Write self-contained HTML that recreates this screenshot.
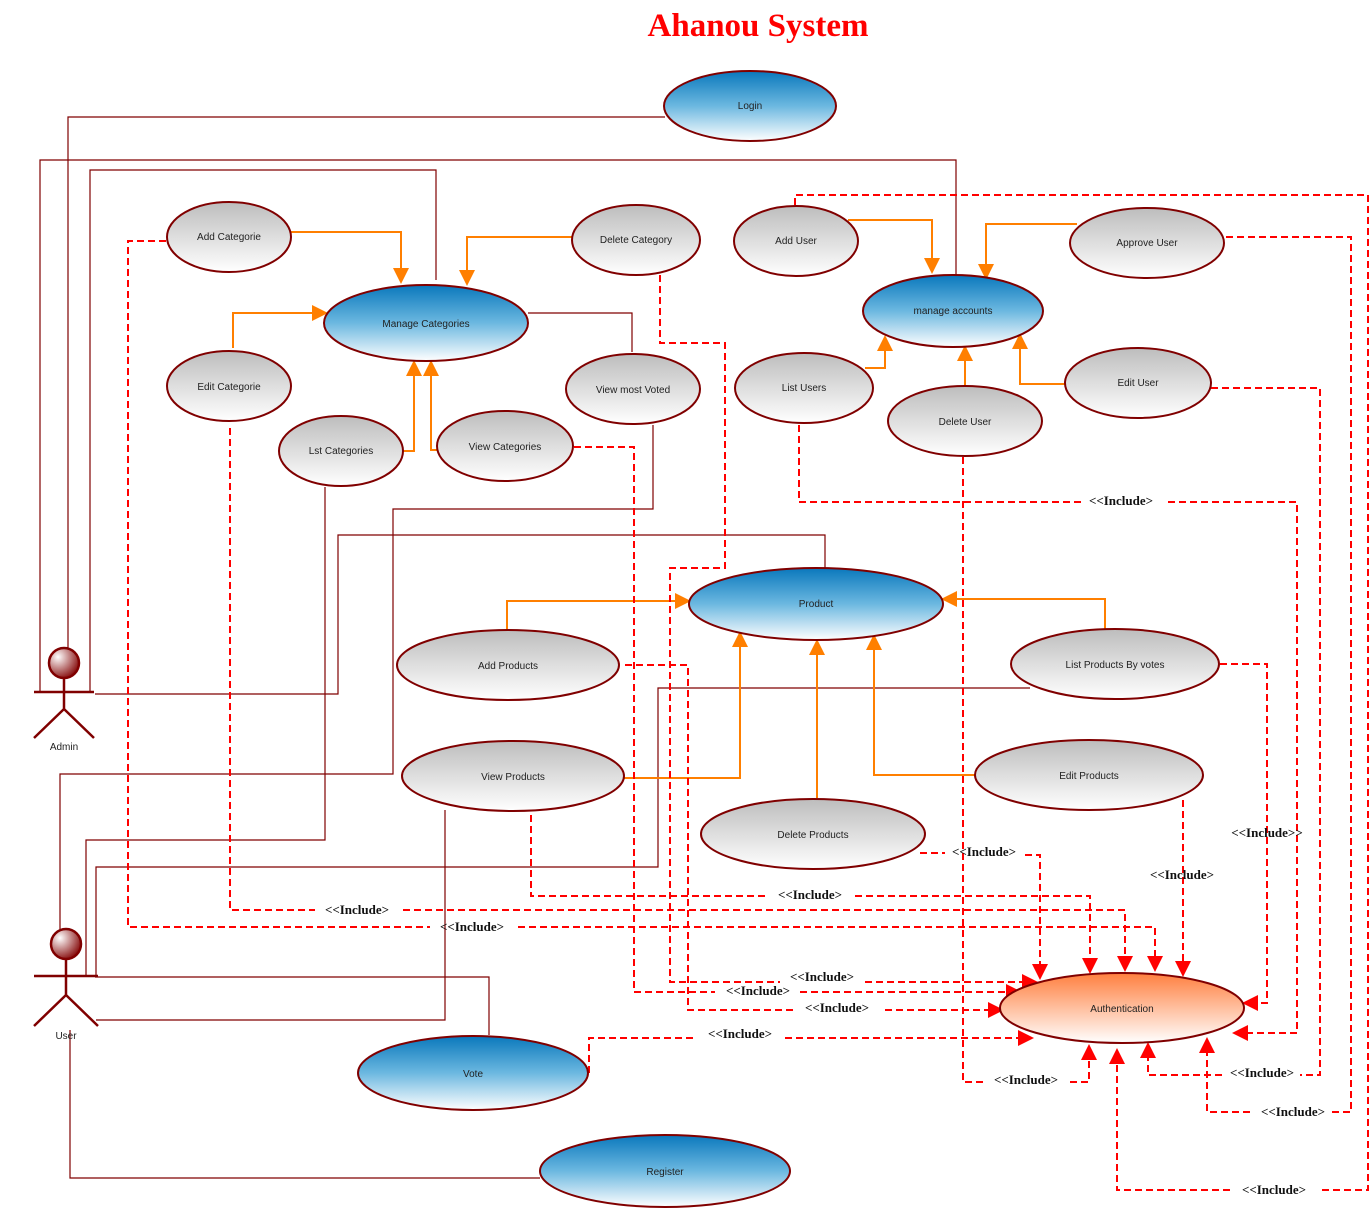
<!DOCTYPE html>
<html><head><meta charset="utf-8"><style>
html,body{margin:0;padding:0;background:#fff;}
svg{display:block;}
.t{font-family:"Liberation Sans",sans-serif;font-size:10px;fill:#222;text-anchor:middle;}
.inc{font-family:"Liberation Serif",serif;font-size:13px;font-weight:bold;fill:#111;text-anchor:middle;}
.s{fill:none;stroke:#800000;stroke-width:1.2;}
.o{fill:none;stroke:#ff7f00;stroke-width:2;}
.d{fill:none;stroke:#ff0000;stroke-width:2;stroke-dasharray:7,4;}
.e{stroke:#800000;stroke-width:2;}
</style></head><body>
<svg width="1371" height="1208" viewBox="0 0 1371 1208" xmlns="http://www.w3.org/2000/svg">
<defs>
<linearGradient id="gb" x1="0" y1="0" x2="0" y2="1"><stop offset="0" stop-color="#0a78bc"/><stop offset="0.5" stop-color="#6cb8e0"/><stop offset="1" stop-color="#ffffff"/></linearGradient>
<linearGradient id="gg" x1="0" y1="0" x2="0" y2="1"><stop offset="0" stop-color="#bdbdbd"/><stop offset="1" stop-color="#ffffff"/></linearGradient>
<linearGradient id="go" x1="0" y1="0" x2="0" y2="1"><stop offset="0" stop-color="#ff7f3f"/><stop offset="1" stop-color="#ffffff"/></linearGradient>
<radialGradient id="gh" cx="0.3" cy="0.3" r="0.8"><stop offset="0" stop-color="#ffffff"/><stop offset="1" stop-color="#800000"/></radialGradient>
<marker id="ao" markerUnits="userSpaceOnUse" markerWidth="16" markerHeight="16" refX="14" refY="8" orient="auto"><path d="M0,0 L16,8 L0,16 z" fill="#ff7f00"/></marker>
<marker id="ar" markerUnits="userSpaceOnUse" markerWidth="16" markerHeight="16" refX="14" refY="8" orient="auto"><path d="M0,0 L16,8 L0,16 z" fill="#ff0000"/></marker>
</defs>

<text x="758" y="36" font-family="Liberation Serif,serif" font-size="33" font-weight="bold" fill="#ff0000" text-anchor="middle">Ahanou System</text>

<path class="s" d="M665,117 H68 V648"/>
<path class="s" d="M956,275 V160 H40 V692"/>
<path class="s" d="M436,280 V170 H90 V692"/>
<path class="s" d="M528,313 H632 V352"/>
<path class="s" d="M825,568 V535 H338 V694 H95"/>
<path class="s" d="M653,425 V509 H393 V774 H60 V930"/>
<path class="s" d="M325,487 V840 H86 V975"/>
<path class="s" d="M1030,688 H658 V867 H96 V975"/>
<path class="s" d="M445,810 V1020 H96"/>
<path class="s" d="M489,1035 V977 H95"/>
<path class="s" d="M540,1178 H70 V1030"/>

<path class="o" marker-end="url(#ao)" d="M291,232 H401 V282"/>
<path class="o" marker-end="url(#ao)" d="M572,237 H467 V284"/>
<path class="o" marker-end="url(#ao)" d="M233,348 V313 H326"/>
<path class="o" marker-end="url(#ao)" d="M403,451 H414 V362"/>
<path class="o" marker-end="url(#ao)" d="M437,450 H431 V362"/>
<path class="o" marker-end="url(#ao)" d="M848,220 H932 V272"/>
<path class="o" marker-end="url(#ao)" d="M1077,224 H986 V278"/>
<path class="o" marker-end="url(#ao)" d="M865,368 H885 V337"/>
<path class="o" marker-end="url(#ao)" d="M965,386 V347"/>
<path class="o" marker-end="url(#ao)" d="M1065,384 H1020 V335"/>
<path class="o" marker-end="url(#ao)" d="M507,630 V601 H689"/>
<path class="o" marker-end="url(#ao)" d="M1105,630 V599 H943"/>
<path class="o" marker-end="url(#ao)" d="M624,778 H740 V633"/>
<path class="o" marker-end="url(#ao)" d="M817,798 V641"/>
<path class="o" marker-end="url(#ao)" d="M975,775 H874 V636"/>

<path class="d" d="M166,241 H128 V927 H430"/><path class="d" marker-end="url(#ar)" d="M518,927 H1155 V970"/>
<path class="d" d="M230,428 V910 H315"/><path class="d" marker-end="url(#ar)" d="M403,910 H1125 V970"/>
<path class="d" d="M660,275 V343 H725 V568 H670 V982 H780"/><path class="d" marker-end="url(#ar)" d="M865,982 H1036"/>
<path class="d" d="M574,447 H634 V992 H715"/><path class="d" marker-end="url(#ar)" d="M800,992 H1020"/>
<path class="d" d="M625,665 H688 V1010 H795"/><path class="d" marker-end="url(#ar)" d="M885,1010 H1002"/>
<path class="d" d="M531,815 V896 H765"/><path class="d" marker-end="url(#ar)" d="M855,896 H1090 V972"/>
<path class="d" d="M920,853 H945"/><path class="d" marker-end="url(#ar)" d="M1025,855 H1040 V978"/>
<path class="d" marker-end="url(#ar)" d="M1183,800 V975"/>
<path class="d" marker-end="url(#ar)" d="M1220,664 H1267 V1003 H1244"/>
<path class="d" d="M799,425 V502 H1085"/><path class="d" marker-end="url(#ar)" d="M1168,502 H1297 V1033 H1234"/>
<path class="d" d="M1211,388 H1320 V1075 H1300"/><path class="d" marker-end="url(#ar)" d="M1222,1075 H1148 V1044"/>
<path class="d" d="M1226,237 H1351 V1112 H1330"/><path class="d" marker-end="url(#ar)" d="M1250,1112 H1207 V1039"/>
<path class="d" d="M795,205 V195 H1368 V1190 H1320"/><path class="d" marker-end="url(#ar)" d="M1230,1190 H1117 V1050"/>
<path class="d" d="M963,457 V1082 H985"/><path class="d" marker-end="url(#ar)" d="M1070,1082 H1089 V1046"/>
<path class="d" d="M589,1073 V1038 H695"/><path class="d" marker-end="url(#ar)" d="M785,1038 H1032"/>

<text class="inc" x="357" y="914">&lt;&lt;Include&gt;</text>
<text class="inc" x="472" y="931">&lt;&lt;Include&gt;</text>
<text class="inc" x="822" y="981">&lt;&lt;Include&gt;</text>
<text class="inc" x="758" y="995">&lt;&lt;Include&gt;</text>
<text class="inc" x="837" y="1012">&lt;&lt;Include&gt;</text>
<text class="inc" x="810" y="899">&lt;&lt;Include&gt;</text>
<text class="inc" x="984" y="856">&lt;&lt;Include&gt;</text>
<text class="inc" x="1182" y="879">&lt;&lt;Include&gt;</text>
<text class="inc" x="1267" y="837">&lt;&lt;Include&gt;&gt;</text>
<text class="inc" x="1121" y="505">&lt;&lt;Include&gt;</text>
<text class="inc" x="1262" y="1077">&lt;&lt;Include&gt;</text>
<text class="inc" x="1293" y="1116">&lt;&lt;Include&gt;</text>
<text class="inc" x="1274" y="1194">&lt;&lt;Include&gt;</text>
<text class="inc" x="1026" y="1084">&lt;&lt;Include&gt;</text>
<text class="inc" x="740" y="1038">&lt;&lt;Include&gt;</text>

<g class="e">
<ellipse cx="750" cy="106" rx="86" ry="35" fill="url(#gb)"/>
<ellipse cx="229" cy="237" rx="62" ry="35" fill="url(#gg)"/>
<ellipse cx="636" cy="240" rx="64" ry="35" fill="url(#gg)"/>
<ellipse cx="796" cy="241" rx="62" ry="35" fill="url(#gg)"/>
<ellipse cx="1147" cy="243" rx="77" ry="35" fill="url(#gg)"/>
<ellipse cx="426" cy="323" rx="102" ry="38" fill="url(#gb)"/>
<ellipse cx="953" cy="311" rx="90" ry="36" fill="url(#gb)"/>
<ellipse cx="229" cy="386" rx="62" ry="35" fill="url(#gg)"/>
<ellipse cx="633" cy="389" rx="67" ry="35" fill="url(#gg)"/>
<ellipse cx="804" cy="388" rx="69" ry="35" fill="url(#gg)"/>
<ellipse cx="1138" cy="383" rx="73" ry="35" fill="url(#gg)"/>
<ellipse cx="965" cy="421" rx="77" ry="35" fill="url(#gg)"/>
<ellipse cx="341" cy="451" rx="62" ry="35" fill="url(#gg)"/>
<ellipse cx="505" cy="446" rx="68" ry="35" fill="url(#gg)"/>
<ellipse cx="816" cy="604" rx="127" ry="36" fill="url(#gb)"/>
<ellipse cx="508" cy="665" rx="111" ry="35" fill="url(#gg)"/>
<ellipse cx="1115" cy="664" rx="104" ry="35" fill="url(#gg)"/>
<ellipse cx="513" cy="776" rx="111" ry="35" fill="url(#gg)"/>
<ellipse cx="1089" cy="775" rx="114" ry="35" fill="url(#gg)"/>
<ellipse cx="813" cy="834" rx="112" ry="35" fill="url(#gg)"/>
<ellipse cx="1122" cy="1008" rx="122" ry="35" fill="url(#go)"/>
<ellipse cx="473" cy="1073" rx="115" ry="37" fill="url(#gb)"/>
<ellipse cx="665" cy="1171" rx="125" ry="36" fill="url(#gb)"/>
</g>
<text class="t" x="750" y="109">Login</text>
<text class="t" x="229" y="240">Add Categorie</text>
<text class="t" x="636" y="243">Delete Category</text>
<text class="t" x="796" y="244">Add User</text>
<text class="t" x="1147" y="246">Approve User</text>
<text class="t" x="426" y="327">Manage Categories</text>
<text class="t" x="953" y="314">manage accounts</text>
<text class="t" x="229" y="390">Edit Categorie</text>
<text class="t" x="633" y="393">View most Voted</text>
<text class="t" x="804" y="391">List Users</text>
<text class="t" x="1138" y="386">Edit User</text>
<text class="t" x="965" y="425">Delete User</text>
<text class="t" x="341" y="454">Lst Categories</text>
<text class="t" x="505" y="450">View Categories</text>
<text class="t" x="816" y="607">Product</text>
<text class="t" x="508" y="669">Add Products</text>
<text class="t" x="1115" y="668">List Products By votes</text>
<text class="t" x="513" y="780">View Products</text>
<text class="t" x="1089" y="779">Edit Products</text>
<text class="t" x="813" y="838">Delete Products</text>
<text class="t" x="1122" y="1012">Authentication</text>
<text class="t" x="473" y="1077">Vote</text>
<text class="t" x="665" y="1175">Register</text>

<g stroke="#800000" stroke-width="2.5" fill="none">
<circle cx="64" cy="663" r="15" fill="url(#gh)"/>
<path d="M64,678 V709 M34,692 H94 M64,709 L34,738 M64,709 L94,738"/>
<circle cx="66" cy="944" r="15" fill="url(#gh)"/>
<path d="M66,959 V995 M34,976 H98 M66,995 L34,1026 M66,995 L98,1026"/>
</g>
<text class="t" x="64" y="750">Admin</text>
<text class="t" x="66" y="1039">User</text>
</svg>
</body></html>
